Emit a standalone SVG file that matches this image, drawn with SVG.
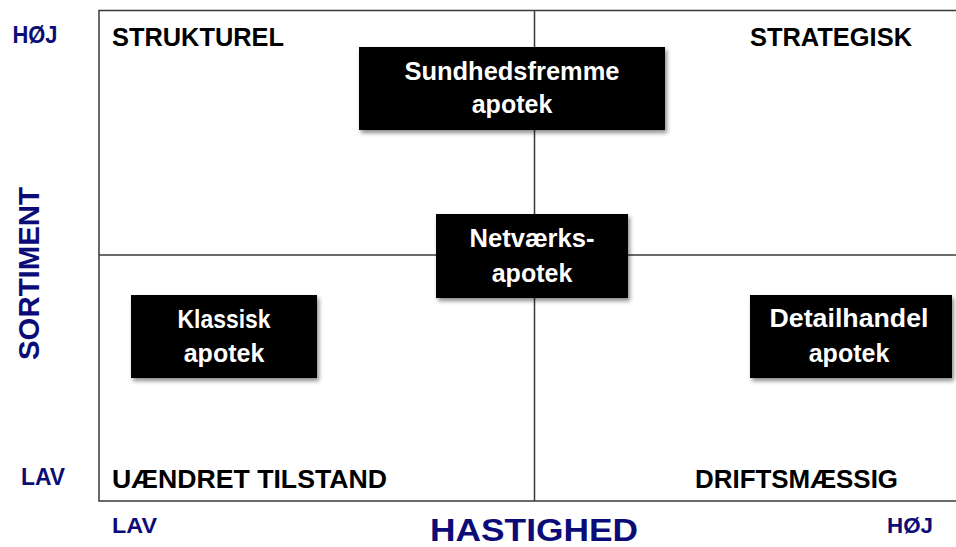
<svg xmlns="http://www.w3.org/2000/svg" width="956" height="547" viewBox="0 0 956 547">
<style>
.q{font-family:"Liberation Sans",Arial,sans-serif;font-weight:bold;font-size:26px;fill:#000}
.ax{font-family:"Liberation Sans",Arial,sans-serif;font-weight:bold;fill:#0c0c78}
.nt{font-family:"Liberation Sans",Arial,sans-serif;font-weight:bold;font-size:25px;fill:#fff;text-anchor:middle}
.box{fill:#000;filter:url(#sh)}
.ln{stroke:#3a3a3a;stroke-width:1.5;fill:none}
</style>
<defs>
<filter id="sh" x="-10%" y="-10%" width="130%" height="140%">
<feDropShadow dx="2" dy="3" stdDeviation="2" flood-color="#000" flood-opacity="0.45"/>
</filter>
</defs>
<rect width="956" height="547" fill="#fff"/>
<g id="grid">
<path class="ln" d="M956,10.5 H99 V501 H956"/>
<line class="ln" x1="534.5" y1="10.5" x2="534.5" y2="501"/>
<line class="ln" x1="99" y1="255" x2="956" y2="255"/>
</g>
<g id="labels">
<text class="q" x="112" y="46" textLength="172" lengthAdjust="spacingAndGlyphs">STRUKTUREL</text>
<text class="q" x="750" y="46" textLength="162" lengthAdjust="spacingAndGlyphs">STRATEGISK</text>
<text class="q" x="112" y="488" textLength="275" lengthAdjust="spacingAndGlyphs">UÆNDRET TILSTAND</text>
<text class="q" x="695" y="488" textLength="203" lengthAdjust="spacingAndGlyphs">DRIFTSMÆSSIG</text>
<text class="ax" x="12.5" y="43" font-size="24" textLength="45" lengthAdjust="spacingAndGlyphs">HØJ</text>
<text class="ax" x="21" y="485" font-size="24" textLength="44" lengthAdjust="spacingAndGlyphs">LAV</text>
<text class="ax" x="112" y="533" font-size="22" textLength="45" lengthAdjust="spacingAndGlyphs">LAV</text>
<text class="ax" x="887" y="533" font-size="22" textLength="46" lengthAdjust="spacingAndGlyphs">HØJ</text>
<text class="ax" x="430" y="541" font-size="32" textLength="208" lengthAdjust="spacingAndGlyphs">HASTIGHED</text>
<text class="ax" font-size="29" transform="translate(38.5,360) rotate(-90)" textLength="173" lengthAdjust="spacingAndGlyphs">SORTIMENT</text>
</g>
<g id="sundhedsfremme">
<rect class="box" x="359" y="47" width="306" height="83"/>
<text class="nt" x="512" y="80" textLength="215" lengthAdjust="spacingAndGlyphs">Sundhedsfremme</text>
<text class="nt" x="512" y="113">apotek</text>
</g>
<g id="netvaerks">
<rect class="box" x="436" y="214" width="192" height="84"/>
<text class="nt" x="532" y="247" textLength="125" lengthAdjust="spacingAndGlyphs">Netværks-</text>
<text class="nt" x="532" y="282">apotek</text>
</g>
<g id="klassisk">
<rect class="box" x="131" y="295" width="186" height="83"/>
<text class="nt" x="224" y="328" textLength="93" lengthAdjust="spacingAndGlyphs">Klassisk</text>
<text class="nt" x="224" y="362">apotek</text>
</g>
<g id="detailhandel">
<rect class="box" x="750" y="295" width="202" height="83"/>
<text class="nt" x="849" y="327" textLength="159" lengthAdjust="spacingAndGlyphs">Detailhandel</text>
<text class="nt" x="849" y="362">apotek</text>
</g>
</svg>
